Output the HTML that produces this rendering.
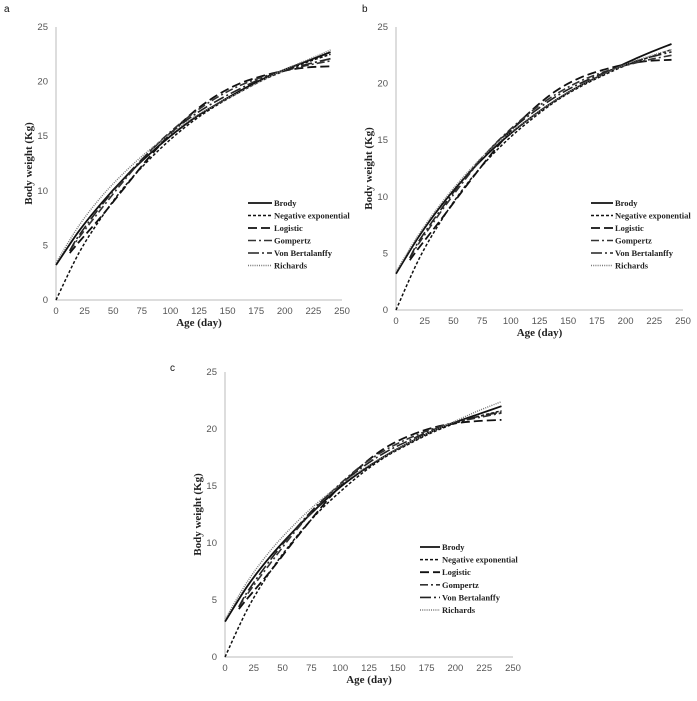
<!DOCTYPE html>
<html><head><meta charset="utf-8"><style>
body{margin:0;background:#fff;width:697px;height:701px;overflow:hidden}
svg{display:block}
.tick{font-family:"Liberation Sans",sans-serif;font-size:9.5px;fill:#555}
.title{font-family:"Liberation Serif",serif;font-size:11px;font-weight:bold;fill:#222}
.leg{font-family:"Liberation Serif",serif;font-size:8.5px;fill:#222;font-weight:bold}
.plabel{font-family:"Liberation Sans",sans-serif;font-size:10px;fill:#111}
</style></head><body>
<svg id="chart" width="697" height="701"></svg>
<script>
const xTicks=[0,25,50,75,100,125,150,175,200,225,250];
const yTicks=[0,5,10,15,20,25];
const seriesNames=["Brody","Negative exponential","Logistic","Gompertz","Von Bertalanffy","Richards"];
const daysFull=[0,20,40,60,80,100,120,140,160,180,200,220,240];
const daysLate=[12,20,40,60,80,100,120,140,160,180,200,220,240];
// panel a
const aBrody=[3.2,6.3,8.9,11.2,13.2,15.0,16.6,17.9,19.1,20.2,21.1,21.9,22.7];
const aNegExp=[0,4.3,7.6,10.4,12.7,14.7,16.4,17.8,19.0,20.1,21.0,21.8,22.5];
const aLogistic=[4.3,5.3,7.7,10.3,12.9,15.2,17.2,18.7,19.8,20.5,21.0,21.3,21.4];
const aGompertz=[4.5,5.7,8.4,11.0,13.4,15.4,17.1,18.5,19.6,20.4,21.0,21.5,21.9];
const aVonBert=[4.5,5.9,8.7,11.2,13.4,15.3,16.9,18.2,19.3,20.3,21.0,21.6,22.1];
const aRichards=[3.4,6.8,9.5,11.7,13.6,15.2,16.7,17.9,19.0,20.1,21.1,22.0,22.9];
// panel b
const bBrody=[3.2,6.5,9.3,11.7,13.8,15.6,17.2,18.6,19.8,20.8,21.8,22.7,23.5];
const bNegExp=[0,4.5,8.0,10.9,13.3,15.3,17.0,18.5,19.7,20.7,21.6,22.3,23.0];
const bLogistic=[4.4,5.5,8.1,10.8,13.4,15.8,17.8,19.4,20.5,21.2,21.7,22.0,22.1];
const bGompertz=[4.6,5.9,8.8,11.5,14.0,16.0,17.7,19.1,20.2,21.0,21.6,22.1,22.5];
const bVonBert=[4.6,6.1,9.0,11.7,14.0,15.9,17.5,18.9,20.0,20.9,21.7,22.3,22.8];
const bRichards=[3.4,6.7,9.5,11.9,14.0,15.7,17.2,18.6,19.8,20.8,21.7,22.4,23.0];
// panel c
const cBrody=[3.1,6.3,8.9,11.1,13.1,14.9,16.4,17.7,18.8,19.8,20.6,21.3,22.0];
const cNegExp=[0,4.3,7.6,10.3,12.6,14.5,16.2,17.6,18.7,19.7,20.5,21.1,21.6];
const cLogistic=[4.2,5.2,7.6,10.2,12.7,15.0,16.9,18.4,19.4,20.1,20.5,20.7,20.8];
const cGompertz=[4.4,5.6,8.3,10.9,13.2,15.2,16.9,18.2,19.2,20.0,20.6,21.0,21.4];
const cVonBert=[4.4,5.8,8.6,11.1,13.3,15.1,16.7,18.0,19.0,19.9,20.6,21.1,21.5];
const cRichards=[3.3,6.7,9.4,11.6,13.5,15.1,16.5,17.7,18.8,19.8,20.7,21.6,22.4];

const NS="http://www.w3.org/2000/svg";
const svg=document.getElementById('chart');
function mk(tag,attrs,parent){const e=document.createElementNS(NS,tag);for(const k in attrs)e.setAttribute(k,attrs[k]);(parent||svg).appendChild(e);return e;}
const styles=[
 {w:1.8,d:"",c:"#111"},
 {w:1.5,d:"3,2",c:"#111"},
 {w:1.8,d:"9,4",c:"#111"},
 {w:1.6,d:"8,3,2,3",c:"#333"},
 {w:1.6,d:"11,3,2,3",c:"#222"},
 {w:1.4,d:"1,1.2",c:"#777"}];
function panel(id,P,series){
 const g=mk('g',{});
 
 
 const X=v=>P.x0+(P.x1-P.x0)*v/250;
 const Y=v=>P.y0-(P.y0-P.y25)*v/25;
 const pl=mk('text',{x:P.lx,y:P.ly,class:'plabel'},g);pl.textContent=id;
 
 
 const ax=mk('path',{d:`M${X(0)},${Y(25)}V${Y(0)}H${X(250)}`,fill:'none',stroke:'#bbb','stroke-width':1},g);
 
 
 xTicks.forEach(t=>{const e=mk('text',{x:X(t),y:Y(0)+14,'text-anchor':'middle',class:'tick'},g);e.textContent=t;
  
  });
 yTicks.forEach(t=>{const e=mk('text',{x:X(0)-8,y:Y(t)+3,'text-anchor':'end',class:'tick'},g);e.textContent=t;
  
  });
 const xt=mk('text',{x:(X(0)+X(250))/2,y:Y(0)+26,'text-anchor':'middle',class:'title'},g);xt.textContent='Age (day)';
 
 
 const yx=X(0)-24,yy=(Y(0)+Y(25))/2;
 const yt=mk('text',{x:yx,y:yy,'text-anchor':'middle',class:'title',transform:`rotate(-90 ${yx} ${yy})`},g);yt.textContent='Body weight (Kg)';
 
 
 series.forEach((s,i)=>{
  const days=(i>=2&&i<=4)?daysLate:daysFull;
  let d='';
  // smooth via Catmull-Rom
  const pts=days.map((x,j)=>[X(x),Y(s[j])]);
  d='M'+pts[0][0]+','+pts[0][1];
  for(let j=0;j<pts.length-1;j++){const p0=pts[j-1]||pts[j],p1=pts[j],p2=pts[j+1],p3=pts[j+2]||p2;
   d+=`C${p1[0]+(p2[0]-p0[0])/6},${p1[1]+(p2[1]-p0[1])/6} ${p2[0]-(p3[0]-p1[0])/6},${p2[1]-(p3[1]-p1[1])/6} ${p2[0]},${p2[1]}`;}
  const st=styles[i];
  const p=mk('path',{d,fill:'none',stroke:st.c,'stroke-width':st.w,'stroke-dasharray':st.d},g);
  
  
  const ly=P.legY+i*P.legDy;
  const lg=mk('g',{},g);
  
  
  mk('line',{x1:P.legX,x2:P.legX+P.legW,y1:ly,y2:ly,stroke:st.c,'stroke-width':st.w,'stroke-dasharray':st.d},lg);
  const lt=mk('text',{x:P.legX+P.legW+2,y:ly+3,class:'leg'},lg);lt.textContent=seriesNames[i];
 });
}
panel('a',{x0:56,x1:342,y0:300,y25:27,lx:4,ly:12,legX:248,legW:24,legY:203,legDy:12.5},[aBrody,aNegExp,aLogistic,aGompertz,aVonBert,aRichards]);
panel('b',{x0:396,x1:683,y0:310,y25:27,lx:362,ly:12,legX:591,legW:22,legY:203,legDy:12.5},[bBrody,bNegExp,bLogistic,bGompertz,bVonBert,bRichards]);
panel('c',{x0:225,x1:513,y0:657,y25:372,lx:170,ly:371,legX:420,legW:20,legY:547,legDy:12.6},[cBrody,cNegExp,cLogistic,cGompertz,cVonBert,cRichards]);
</script>
</body></html>
